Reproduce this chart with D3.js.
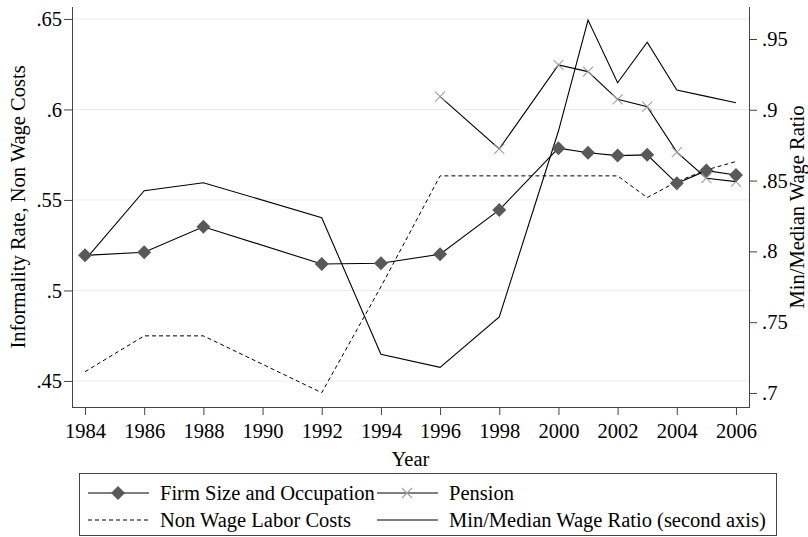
<!DOCTYPE html>
<html>
<head>
<meta charset="utf-8">
<script src="https://cdn.jsdelivr.net/npm/d3@7"></script>
<style>
  body { margin: 0; background: #fff; }
  svg text { font-family: "Liberation Serif", "Times New Roman", serif; fill: #000; }
</style>
</head>
<body>
<div id="mount"></div>
<script>
// chart data
var years = [1984, 1986, 1988, 1992, 1994, 1996, 1998, 2000, 2001, 2002, 2003, 2004, 2005, 2006];
var firmSize = [.5194, .5211, .5352, .5146, .515, .52, .5445, .5786, .5761, .5745, .5749, .5592, .5662, .5638];
var nonWage = [.4551, .4749, .4749, .4435, .502, .5633, .5633, .5633, .5633, .5633, .5513, .5601, .5666, .5712];
var pensionYears = [1996, 1998, 2000, 2001, 2002, 2003, 2004, 2005, 2006];
var pension = [.6071, .5782, .6246, .6209, .6056, .6015, .5764, .562, .5601];
var wageRatio = [.7939, .8429, .8485, .8238, .7273, .7181, .7537, .885, .9634, .9191, .9477, .914, .9095, .905];

var xTicks = d3.range(1984, 2007, 2);
var leftTicks = [.45, .5, .55, .6, .65];
var rightTicks = [.7, .75, .8, .85, .9, .95];
var legendLabels = ['Firm Size and Occupation', 'Pension', 'Non Wage Labor Costs', 'Min/Median Wage Ratio (second axis)'];

var W = 808, H = 537;
var plot = { left: 72, right: 749, top: 7, bottom: 407 };
var fontSize = 20.5;

var svg = d3.select('#mount').append('svg')
    .attr('width', W)
    .attr('height', H);

var x = d3.scaleLinear()
    .domain([1983.56, 2006.44])
    .range([plot.left, plot.right]);

var yL = d3.scaleLinear()
    .domain([.4356, .6566])
    .range([plot.bottom, plot.top]);

var yR = d3.scaleLinear()
    .domain([.6901, .9726])
    .range([plot.bottom, plot.top]);

// light gridlines at the left axis ticks
svg.append('g')
  .selectAll('line')
    .data(leftTicks)
  .enter().append('line')
    .attr('x1', plot.left)
    .attr('x2', plot.right)
    .attr('y1', d => yL(d))
    .attr('y2', d => yL(d))
    .style('stroke', '#ebebeb')
    .style('stroke-width', 1);

var fmt = d => String(d).replace(/^0/, '');

// axes
var xAxis = d3.axisBottom(x).tickValues(xTicks).tickFormat(d3.format('d')).tickSize(8).tickPadding(8);
var leftAxis = d3.axisLeft(yL).tickValues(leftTicks).tickFormat(fmt).tickSize(8).tickPadding(2);
var rightAxis = d3.axisRight(yR).tickValues(rightTicks).tickFormat(fmt).tickSize(8).tickPadding(5);

function styleAxis(g) {
  g.select('.domain').remove();
  g.selectAll('.tick line').style('stroke', '#444');
  g.selectAll('.tick text')
      .style('font-size', fontSize + 'px')
      .style('font-family', '"Liberation Serif", serif')
      .attr('fill', '#000');
}

svg.append('g')
    .attr('transform', `translate(0,${plot.bottom})`)
    .call(xAxis)
    .call(styleAxis);

svg.append('g')
    .attr('transform', `translate(${plot.left},0)`)
    .call(leftAxis)
    .call(styleAxis);

svg.append('g')
    .attr('transform', `translate(${plot.right},0)`)
    .call(rightAxis)
    .call(styleAxis);

// axis lines spanning the whole plot region
svg.append('line').attr('x1', plot.left).attr('x2', plot.right + 1).attr('y1', plot.bottom + .5).attr('y2', plot.bottom + .5).style('stroke', '#444');
svg.append('line').attr('x1', plot.left + .5).attr('x2', plot.left + .5).attr('y1', plot.top).attr('y2', plot.bottom).style('stroke', '#444');
svg.append('line').attr('x1', plot.right + .5).attr('x2', plot.right + .5).attr('y1', plot.top).attr('y2', plot.bottom).style('stroke', '#444');

// axis titles
svg.append('text')
    .attr('transform', `translate(25,${(plot.top + plot.bottom) / 2}) rotate(-90)`)
    .attr('text-anchor', 'middle')
    .style('font-size', fontSize + 'px')
    .text('Informality Rate, Non Wage Costs');

svg.append('text')
    .attr('transform', `translate(804,${(plot.top + plot.bottom) / 2}) rotate(-90)`)
    .attr('text-anchor', 'middle')
    .style('font-size', fontSize + 'px')
    .text('Min/Median Wage Ratio');

svg.append('text')
    .attr('x', (plot.left + plot.right) / 2)
    .attr('y', 466)
    .attr('text-anchor', 'middle')
    .style('font-size', fontSize + 'px')
    .text('Year');

// lines
var lineL = d3.line().x(d => x(d[0])).y(d => yL(d[1]));
var lineR = d3.line().x(d => x(d[0])).y(d => yR(d[1]));

var firmData = years.map((yr, i) => [yr, firmSize[i]]);
var nonWageData = years.map((yr, i) => [yr, nonWage[i]]);
var pensionData = pensionYears.map((yr, i) => [yr, pension[i]]);
var wageData = years.map((yr, i) => [yr, wageRatio[i]]);

svg.append('path').datum(nonWageData)
    .attr('d', lineL)
    .style('fill', 'none').style('stroke', '#000').style('stroke-width', 1)
    .style('stroke-dasharray', '4,3');

svg.append('path').datum(wageData)
    .attr('d', lineR)
    .style('fill', 'none').style('stroke', '#000').style('stroke-width', 1.1);

svg.append('path').datum(pensionData)
    .attr('d', lineL)
    .style('fill', 'none').style('stroke', '#000').style('stroke-width', 1.1);

svg.append('path').datum(firmData)
    .attr('d', lineL)
    .style('fill', 'none').style('stroke', '#000').style('stroke-width', 1.1);

// markers
var diamond = 'M0,-7L7,0L0,7L-7,0Z';
var cross = 'M-5,-5L5,5M-5,5L5,-5';

svg.append('g')
  .selectAll('path')
    .data(pensionData)
  .enter().append('path')
    .attr('transform', d => `translate(${x(d[0])},${yL(d[1])})`)
    .attr('d', cross)
    .style('stroke', '#a0a0a0')
    .style('stroke-width', 1.1)
    .style('fill', 'none');

svg.append('g')
  .selectAll('path')
    .data(firmData)
  .enter().append('path')
    .attr('transform', d => `translate(${x(d[0])},${yL(d[1])})`)
    .attr('d', diamond)
    .style('fill', '#595959');

// legend
var legend = svg.append('g');
legend.append('rect')
    .attr('x', 79.5).attr('y', 473.5)
    .attr('width', 697).attr('height', 62)
    .style('fill', '#fff').style('stroke', '#444');

var legendItems = [
  { col: 0, row: 0, dash: null, marker: 'diamond' },
  { col: 1, row: 0, dash: null, marker: 'cross' },
  { col: 0, row: 1, dash: '4,3', marker: null },
  { col: 1, row: 1, dash: null, marker: null }
];
var colX = [88, 377], rowY = [493, 520];

legendItems.forEach((it, i) => {
  var x0 = colX[it.col], yy = rowY[it.row];
  legend.append('line')
      .attr('x1', x0).attr('x2', x0 + 61)
      .attr('y1', yy).attr('y2', yy)
      .style('stroke', '#000').style('stroke-width', 1.1)
      .style('stroke-dasharray', it.dash);
  if (it.marker === 'diamond') {
    legend.append('path').attr('transform', `translate(${x0 + 30},${yy})`).attr('d', diamond).style('fill', '#595959');
  } else if (it.marker === 'cross') {
    legend.append('path').attr('transform', `translate(${x0 + 30},${yy})`).attr('d', cross)
        .style('stroke', '#a0a0a0').style('stroke-width', 1.1).style('fill', 'none');
  }
  legend.append('text')
      .attr('x', x0 + 72)
      .attr('y', yy + 7)
      .style('font-size', fontSize + 'px')
      .text(legendLabels[i]);
});
</script>
</body>
</html>
